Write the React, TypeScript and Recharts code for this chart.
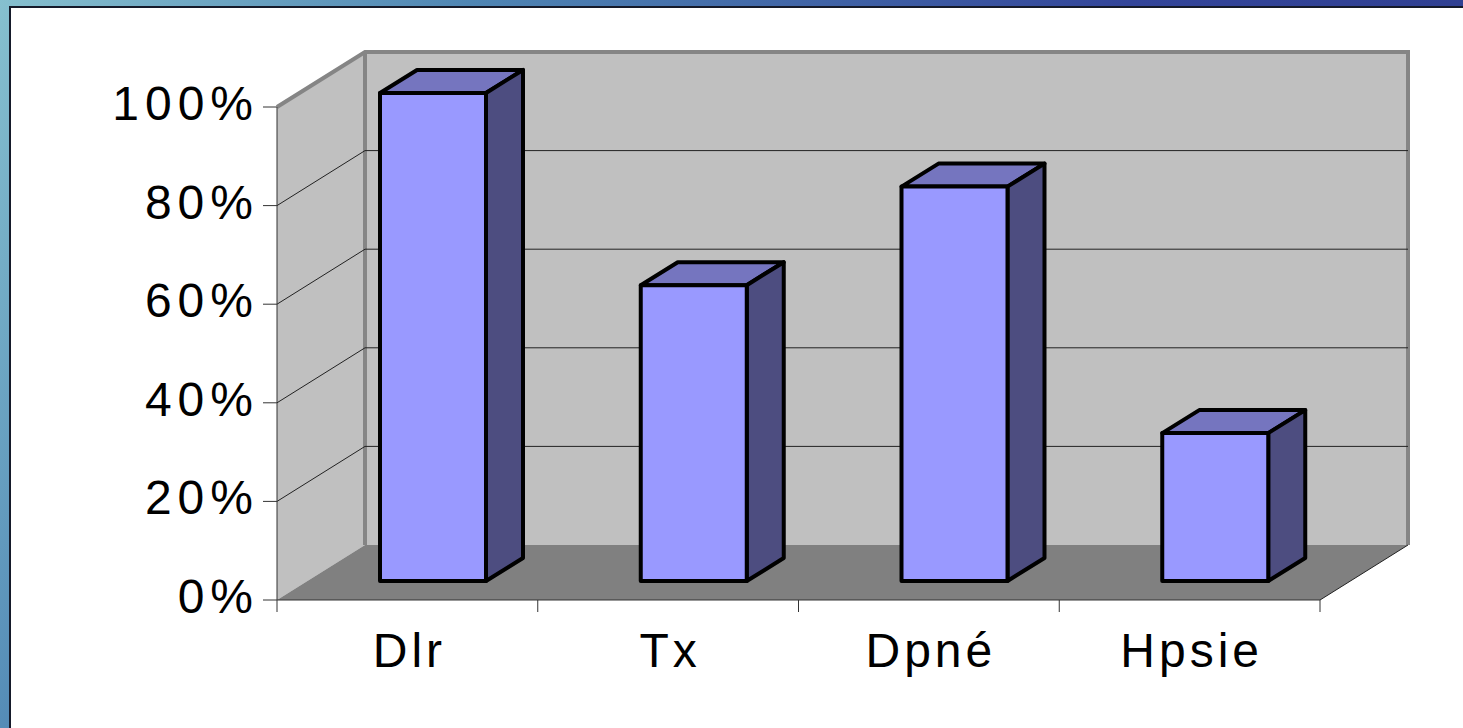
import { BarChart, Bar, XAxis, YAxis, CartesianGrid } from "recharts";

const categories = ["Dlr", "Tx", "Dpné", "Hpsie"];
const shares = [99, 60, 80, 30];
const yTicks = [0, 20, 40, 60, 80, 100];

const data = categories.map((name, i) => ({ name, value: shares[i] }));

// plot area (front plane of the 3d box)
const W = 1463;
const H = 728;
const LEFT = 277;
const RIGHT = 1320;
const TOP = 107;
const BOTTOM = 600;
const X_AXIS_H = 30;
// depth of the box
const DX = 88;
const DY = -55;
// where the bars sit inside the depth, and their own depth
const BAR_DX = 26;
const BAR_DY = -19;
const BAR_DEPTH_X = 37;
const BAR_DEPTH_Y = -23;

const band = (RIGHT - LEFT) / categories.length;
const font = "'Liberation Sans', Arial, sans-serif";

function Box(props: any) {
  const { x, y, width, height } = props;
  const bx = x + BAR_DX;
  const by = y + BAR_DY;
  const w = width;
  const h = height;
  const stroke = { stroke: "#000", strokeWidth: 4, strokeLinejoin: "round" as const };
  return (
    <g>
      <polygon
        points={`${bx},${by} ${bx + BAR_DEPTH_X},${by + BAR_DEPTH_Y} ${bx + w + BAR_DEPTH_X},${by + BAR_DEPTH_Y} ${bx + w},${by}`}
        fill="#7575bf"
        {...stroke}
      />
      <polygon
        points={`${bx + w},${by} ${bx + w + BAR_DEPTH_X},${by + BAR_DEPTH_Y} ${bx + w + BAR_DEPTH_X},${by + h + BAR_DEPTH_Y} ${bx + w},${by + h}`}
        fill="#4d4d80"
        {...stroke}
      />
      <rect x={bx} y={by} width={w} height={h} fill="#9999ff" {...stroke} />
    </g>
  );
}

function gridLine(props: any) {
  const { x1, y1, x2, key } = props;
  if (Math.abs(y1 - BOTTOM) < 1 || Math.abs(y1 - TOP) < 1) return <g key={key} />;
  return (
    <g key={key}>
      <line x1={x1} y1={y1} x2={x1 + DX} y2={y1 + DY} stroke="#222" strokeWidth={1} />
      <line x1={x1 + DX} y1={y1 + DY} x2={x2 + DX} y2={y1 + DY} stroke="#222" strokeWidth={1} />
    </g>
  );
}

function PercentTick(props: any) {
  const { x, y, payload } = props;
  return (
    <text x={x} y={y + 13} textAnchor="end" fill="#000" fontSize={48} fontFamily={font} letterSpacing={6}>
      {`${payload.value}%`}
    </text>
  );
}

function CategoryTick(props: any) {
  const { x, y, payload, index } = props;
  const last = index === categories.length - 1;
  return (
    <g>
      <line x1={x - band / 2} y1={BOTTOM} x2={x - band / 2} y2={BOTTOM + 12} stroke="#333" />
      {last && <line x1={x + band / 2} y1={BOTTOM} x2={x + band / 2} y2={BOTTOM + 12} stroke="#333" />}
      <text x={x + 2} y={y} dy="0.71em" textAnchor="middle" fill="#000" fontSize={48} fontFamily={font} letterSpacing={4}>
        {payload.value}
      </text>
    </g>
  );
}

function Walls() {
  const backBottom = BOTTOM + DY;
  const backTop = TOP + DY;
  return (
    <svg width={W} height={H} style={{ position: "absolute", left: 0, top: 0 }}>
      <polygon points={`${LEFT},${TOP} ${LEFT + DX},${backTop} ${LEFT + DX},${backBottom} ${LEFT},${BOTTOM}`} fill="#c0c0c0" />
      <rect x={LEFT + DX} y={backTop} width={RIGHT - LEFT} height={BOTTOM - TOP} fill="#c0c0c0" />
      <polygon
        points={`${LEFT},${BOTTOM} ${LEFT + DX},${backBottom} ${RIGHT + DX},${backBottom} ${RIGHT},${BOTTOM}`}
        fill="#808080"
      />
      <polyline
        points={`${LEFT},${TOP} ${LEFT + DX},${backTop} ${RIGHT + DX},${backTop} ${RIGHT + DX},${backBottom}`}
        fill="none"
        stroke="#858585"
        strokeWidth={4}
      />
      <line x1={LEFT + DX} y1={backTop} x2={LEFT + DX} y2={backBottom} stroke="#858585" strokeWidth={4} />
      <line x1={RIGHT} y1={BOTTOM} x2={RIGHT + DX} y2={backBottom} stroke="#222" strokeWidth={1} />
    </svg>
  );
}

export default function App() {
  return (
    <div
      style={{
        position: "fixed",
        left: 0,
        top: 0,
        width: W,
        height: H,
        overflow: "hidden",
        background: "linear-gradient(120deg, #86c0cf 0%, #4f86b4 25%, #33459a 60%, #2c3a8a 100%)",
      }}
    >
      <div
        style={{
          position: "absolute",
          left: 9,
          top: 6,
          right: -2,
          bottom: -2,
          background: "#fff",
          borderLeft: "2px solid #151a2a",
          borderTop: "2px solid #151a2a",
        }}
      />
      <Walls />
      <div style={{ position: "absolute", left: 0, top: 0 }}>
        <BarChart
          width={W}
          height={H}
          data={data}
          margin={{ top: TOP, right: W - RIGHT, bottom: H - BOTTOM - X_AXIS_H, left: LEFT - 120 }}
          barSize={106}
        >
          <CartesianGrid vertical={false} horizontal={gridLine} />
          <YAxis
            type="number"
            domain={[0, 100]}
            ticks={yTicks}
            width={120}
            tickSize={14}
            tickMargin={4}
            axisLine={{ stroke: "#333" }}
            tickLine={{ stroke: "#333" }}
            tick={<PercentTick />}
          />
          <XAxis
            dataKey="name"
            height={X_AXIS_H}
            tickSize={12}
            tickMargin={21}
            tickLine={false}
            axisLine={{ stroke: "#333" }}
            tick={<CategoryTick />}
            interval={0}
          />
          <Bar dataKey="value" shape={<Box />} isAnimationActive={false} />
        </BarChart>
      </div>
    </div>
  );
}
